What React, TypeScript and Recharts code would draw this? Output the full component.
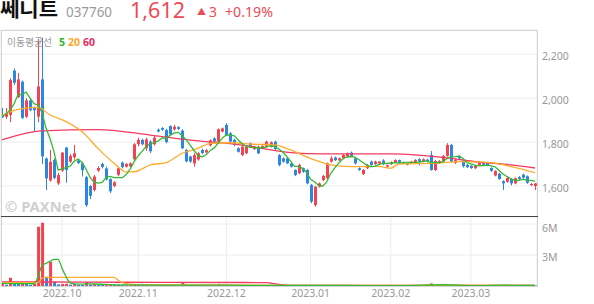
import { ComposedChart, Bar, Line, XAxis, YAxis, CartesianGrid, Cell } from 'recharts';

const RED = '#f4434f';
const BLUE = '#2d87e2';
const MA5_C = '#35b935';
const MA20_C = '#ffab2e';
const MA60_C = '#f23a62';

// months shown and trading days in each
const monthNames = ['2022.09', '2022.10', '2022.11', '2022.12', '2023.01', '2023.02', '2023.03'];
const monthDays = [15, 19, 22, 21, 20, 20, 17];

const opens = [1925,1915,1923,2125,2005,2075,1915,1990,1958,1916, 2085,1725,1625,1718,1612,1670,1775,1711,1731,1715, 1703,1640,1600,1582,1670,1700,1680,1632,1600,1651, 1706,1688,1690,1722,1790,1810,1772,1802,1790,1856, 1864,1855,1873,1858,1868,1852,1764,1734,1703,1721, 1764,1753,1785,1817,1802,1848,1878,1840,1810,1772, 1741,1749,1794,1768,1779,1772,1779,1779,1802,1741, 1726,1726,1703,1673,1658,1681,1673,1605,1513,1597, 1627,1635,1711,1730,1717,1726,1734,1752,1726,1681, 1655,1681,1711,1700,1703,1716,1688,1700,1708,1718, 1704,1704,1703,1709,1722,1711,1720,1741,1673,1704, 1711,1737,1787,1706,1734,1712,1696,1692,1681,1696, 1708,1706,1682,1648,1656,1622,1619,1632,1612,1640, 1652,1644,1604,1600];
const highs = [1955,1955,2090,2135,2115,2080,2000,1995,1962,2270, 2275,1730,1764,1725,1660,1755,1778,1745,1787,1720, 1708,1645,1605,1650,1690,1706,1688,1635,1622,1688, 1712,1705,1708,1795,1820,1815,1820,1808,1830,1862, 1868,1860,1876,1878,1872,1858,1768,1738,1749,1755, 1770,1768,1812,1822,1862,1866,1886,1845,1815,1776, 1783,1784,1798,1783,1784,1786,1806,1803,1806,1745, 1730,1730,1706,1676,1700,1684,1677,1609,1600,1616, 1650,1707,1735,1734,1730,1745,1753,1757,1730,1685, 1677,1700,1715,1715,1714,1722,1698,1712,1722,1720, 1712,1706,1714,1722,1726,1726,1724,1759,1718,1718, 1742,1795,1792,1724,1740,1716,1700,1695,1695,1712, 1712,1710,1685,1672,1660,1626,1642,1636,1638,1645, 1656,1648,1614,1614];
const lows = [1910,1905,1890,2060,2000,1905,1910,1940,1847,1890, 1700,1582,1620,1630,1605,1665,1615,1705,1720,1700, 1643,1505,1540,1575,1665,1680,1625,1568,1595,1645, 1680,1684,1685,1715,1780,1785,1760,1750,1785,1844, 1852,1795,1830,1852,1855,1768,1708,1705,1688,1715, 1745,1748,1780,1798,1798,1844,1828,1798,1782,1752, 1736,1745,1775,1764,1745,1768,1775,1775,1764,1690, 1706,1700,1684,1645,1654,1660,1608,1522,1506,1593, 1622,1630,1707,1714,1713,1722,1730,1733,1698,1669, 1650,1677,1692,1696,1700,1695,1684,1696,1704,1702, 1700,1694,1700,1705,1694,1708,1708,1670,1668,1700, 1708,1733,1706,1700,1722,1684,1682,1678,1677,1692, 1694,1690,1665,1644,1628,1582,1615,1603,1608,1628, 1634,1610,1600,1582];
const closes = [1912,1930,2083,2070,2085,1910,1990,1945,1945,2053, 1735,1635,1710,1637,1650,1752,1673,1737,1749,1705, 1672,1513,1555,1643,1682,1687,1630,1576,1617,1681, 1686,1700,1703,1790,1810,1790,1812,1758,1820,1848, 1856,1800,1835,1870,1860,1772,1712,1712,1741,1749, 1750,1763,1808,1803,1858,1862,1832,1802,1787,1756, 1779,1779,1779,1779,1749,1782,1802,1799,1768,1696, 1711,1703,1688,1650,1696,1665,1612,1529,1597,1612, 1646,1703,1726,1718,1726,1741,1749,1737,1703,1673, 1673,1696,1696,1711,1711,1700,1694,1708,1718,1705, 1708,1697,1711,1718,1710,1722,1712,1673,1714,1714, 1737,1787,1711,1718,1726,1690,1686,1682,1691,1709, 1697,1694,1669,1668,1632,1612,1637,1612,1635,1632, 1638,1615,1609,1612];
// volume in thousands of shares
const volumes = [200,120,800,320,220,220,200,100,200,5740, 6130,900,2350,420,160,200,220,140,200,120, 100,390,150,200,120,100,120,140,100,120, 90,70,80,150,120,90,100,80,100,80, 60,80,70,80,60,320,120,80,90,70, 60,70,90,70,200,100,80,70,60,70, 80,70,60,50,60,50,70,60,50,70, 50,40,50,60,50,40,60,80,70,50, 60,70,50,40,50,40,50,40,50,40, 50,40,40,30,40,30,40,30,40,30, 40,30,40,60,100,50,40,250,100,60, 80,120,100,60,50,40,50,40,30,40, 30,30,40,50,100,110,50,40,50,40, 40,100,50,40];

// MA5 before the window has 5 closes of its own
const ma5Start = [1916, 1928, 1946, 1974];
// longer averages: [day, value]
const ma20Pts = [[0,1923],[4,1949],[9,1958],[12,1923],[16,1893],[20,1847],[24,1770],[28,1703],[31,1664],[33,1665],[37,1696],[41,1707],[45,1749],[49,1772],[52,1794],[57,1797],[63,1790],[68,1787],[72,1764],[77,1726],[82,1696],[87,1688],[94,1689],[97,1681],[99,1700],[107,1703],[115,1711],[122,1706],[127,1688],[133,1661]];
const ma60Pts = [[0,1810],[10,1851],[24,1857],[37,1832],[49,1805],[55,1796],[62,1780],[72,1752],[80,1746],[97,1746],[111,1728],[119,1709],[127,1696],[133,1682]];
const vma5Pts = [[0,250],[8,220],[9,900],[10,2000],[11,2200],[12,2400],[13,2580],[14,2580],[15,1700],[16,900],[17,300],[19,180],[22,200],[26,150],[30,110],[40,80],[50,90],[60,70],[70,60],[80,60],[90,45],[100,40],[105,90],[110,120],[114,80],[120,40],[125,80],[130,60],[133,60]];
const vma20Pts = [[0,320],[9,320],[10,750],[11,840],[28,840],[29,560],[30,330],[32,180],[34,140],[45,110],[55,100],[70,70],[90,60],[105,60],[115,80],[125,60],[133,55]];
const vma60Pts = [[0,390],[20,380],[40,350],[66,330],[68,220],[70,100],[72,70],[100,60],[133,55]];

const priceTicks = [1600, 1800, 2000, 2200];
const volTicks = [3000, 6000];

const keys: string[] = [];
monthNames.forEach((m, mi) => {
  for (let k = 0; k < monthDays[mi]; k++) keys.push(`${m}-${k}`);
});
const monthTicks = monthNames.slice(1).map((m) => `${m}-0`);

const toMap = (pts: number[][]) => new Map(pts.map(([i, v]) => [i, v]));
const ma20Map = toMap(ma20Pts);
const ma60Map = toMap(ma60Pts);
const vma5Map = toMap(vma5Pts);
const vma20Map = toMap(vma20Pts);
const vma60Map = toMap(vma60Pts);

const rows = keys.map((key, i) => {
  let ma5 = ma5Start[i];
  if (i >= 4) ma5 = closes.slice(i - 4, i + 1).reduce((a, b) => a + b, 0) / 5;
  return {
    key,
    o: opens[i],
    h: highs[i],
    l: lows[i],
    c: closes[i],
    v: volumes[i],
    vc: i === 0 || volumes[i] >= volumes[i - 1] ? RED : BLUE,
    ma5,
    ma20: ma20Map.get(i) ?? null,
    ma60: ma60Map.get(i) ?? null,
    vma5: vma5Map.get(i) ?? null,
    vma20: vma20Map.get(i) ?? null,
    vma60: vma60Map.get(i) ?? null,
  };
});

const FONT = '"Noto Sans", "Noto Sans CJK KR", sans-serif';

const Candle = (p: any) => {
  const { x, y, width, height, payload } = p;
  if (!payload || x == null || y == null) return null;
  const { o, h, l, c } = payload;
  const yHi = Math.min(y, y + height);
  const yLo = Math.max(y, y + height);
  const span = h - l || 1;
  const py = (v: number) => yHi + ((h - v) / span) * (yLo - yHi);
  const color = c >= o ? RED : BLUE;
  const cx = Math.floor(x + width / 2);
  const top = py(Math.max(o, c));
  const bot = py(Math.min(o, c));
  return (
    <g>
      <line x1={cx + 0.5} x2={cx + 0.5} y1={yHi} y2={yLo} stroke={color} strokeWidth={1} />
      <rect x={cx - 1} y={top} width={3} height={Math.max(bot - top, 1)} fill={color} />
    </g>
  );
};

const RightTick = (p: any) => {
  const { x, y, payload, fmt } = p;
  return (
    <text x={x + 5} y={y + 6} fill="#999" fontSize={10.5} fontFamily={FONT}>
      {fmt(payload.value)}
    </text>
  );
};

const MonthTick = (p: any) => {
  const { x, y, payload } = p;
  return (
    <text x={x} y={y + 11} fill="#999" fontSize={10.5} fontFamily={FONT} textAnchor="middle">
      {String(payload.value).split('-')[0]}
    </text>
  );
};

const line = (key: string, color: string, smooth: boolean) => (
  <Line
    dataKey={key}
    stroke={color}
    strokeWidth={1.3}
    dot={false}
    activeDot={false}
    connectNulls
    type={smooth ? 'monotone' : 'linear'}
    isAnimationActive={false}
  />
);

const abs = (s: any) => ({ position: 'absolute' as const, ...s });

export default function App() {
  return (
    <div style={abs({ left: 0, top: 0, width: 594, height: 304, background: '#fff', fontFamily: FONT, overflow: 'hidden' })}>
      <div style={abs({ left: 0, top: 0 })}>
        <ComposedChart width={594} height={217} data={rows} margin={{ top: 30, right: 0, bottom: 0, left: 0 }} barCategoryGap={0}>
          <CartesianGrid stroke="#ededed" />
          <XAxis dataKey="key" ticks={monthTicks} height={0} tick={false} axisLine={false} tickLine={false} interval={0} />
          <YAxis
            orientation="right"
            width={57}
            domain={[1459, 2310]}
            allowDataOverflow
            ticks={priceTicks}
            axisLine={false}
            tickLine={false}
            tickSize={0}
            tickMargin={0}
            tick={<RightTick fmt={(v: number) => v.toLocaleString('en-US')} />}
          />
          <Bar dataKey={(d: any) => [d.l, d.h]} barSize={3} shape={(p: any) => <Candle {...p} />} isAnimationActive={false} />
          {line('ma60', MA60_C, true)}
          {line('ma20', MA20_C, true)}
          {line('ma5', MA5_C, false)}
        </ComposedChart>
      </div>
      <div style={abs({ left: 0, top: 217 })}>
        <ComposedChart width={594} height={87} data={rows} margin={{ top: 0, right: 0, bottom: 0, left: 0 }} barCategoryGap={0}>
          <CartesianGrid stroke="#ededed" />
          <XAxis
            dataKey="key"
            ticks={monthTicks}
            interval={0}
            height={18}
            axisLine={false}
            tickLine={false}
            tickSize={0}
            tickMargin={0}
            tick={<MonthTick />}
          />
          <YAxis
            orientation="right"
            width={57}
            domain={[0, 6680]}
            allowDataOverflow
            ticks={volTicks}
            axisLine={false}
            tickLine={false}
            tickSize={0}
            tickMargin={0}
            tick={<RightTick fmt={(v: number) => `${v / 1000}M`} />}
          />
          <Bar dataKey="v" barSize={3} isAnimationActive={false}>
            {rows.map((r, i) => (
              <Cell key={i} fill={r.vc} />
            ))}
          </Bar>
          {line('vma60', MA60_C, true)}
          {line('vma20', MA20_C, true)}
          {line('vma5', MA5_C, true)}
        </ComposedChart>
      </div>
      {/* frame */}
      <div style={abs({ left: 1, top: 30, width: 537, height: 1, background: '#d4d4d4' })} />
      <div style={abs({ left: 1, top: 30, width: 1, height: 257, background: '#d4d4d4' })} />
      <div style={abs({ left: 537, top: 30, width: 1, height: 257, background: '#d4d4d4' })} />
      <div style={abs({ left: 1, top: 216, width: 537, height: 1, background: '#444' })} />
      <div style={abs({ left: 1, top: 286, width: 537, height: 1, background: '#d4d4d4' })} />
      <svg width={594} height={304} style={abs({ left: 0, top: 0, pointerEvents: 'none' })} fontFamily={FONT}>
        <text x={0} y={17} fontSize={20} fontWeight="bold" fill="#111" textLength={58} lengthAdjust="spacingAndGlyphs" fontFamily='"Noto Sans CJK KR", sans-serif'>쎄니트</text>
        <text x={66} y={17} fontSize={14} fill="#999" textLength={46} lengthAdjust="spacingAndGlyphs">037760</text>
        <text x={130} y={18} fontSize={21} fill="#f04a55" textLength={55} lengthAdjust="spacingAndGlyphs">1,612</text>
        <text x={197} y={15} fontSize={9} fill="#f04a55">▲</text>
        <text x={209} y={17} fontSize={14} fill="#f04a55">3</text>
        <text x={225} y={17} fontSize={14} fill="#f04a55" textLength={48} lengthAdjust="spacingAndGlyphs">+0.19%</text>
        <text x={7} y={46} fontSize={10} fill="#9a9a9a" textLength={45} lengthAdjust="spacingAndGlyphs" fontFamily='"Noto Sans CJK KR", sans-serif'>이동평균선</text>
        <text x={59} y={46} fontSize={10.5} fontWeight="bold" fill="#2bb52b">5</text>
        <text x={68} y={46} fontSize={10.5} fontWeight="bold" fill="#ffa726">20</text>
        <text x={83} y={46} fontSize={10.5} fontWeight="bold" fill="#ee2a5e">60</text>
        <text x={5} y={212} fontSize={15} fontWeight="bold" fill="#d0d0d0" textLength={72} lengthAdjust="spacingAndGlyphs">© PAXNet</text>
      </svg>
    </div>
  );
}
